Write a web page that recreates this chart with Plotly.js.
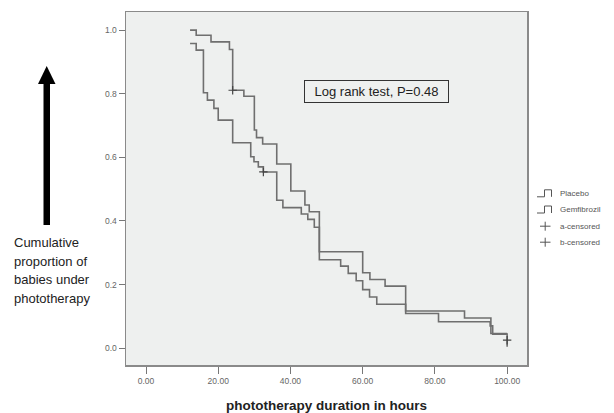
<!DOCTYPE html>
<html>
<head>
<meta charset="utf-8">
<script src="https://cdn.plot.ly/plotly-3.0.1.min.js"></script>
<style>html,body{margin:0;padding:0;background:#fff;}#chart{width:614px;height:413px;}</style>
</head>
<body>
<div id="chart"></div>
<script>
// ---- data ----
var placeboTime = [12.2, 13.9, 18.0, 23.1, 24.0, 27.1, 30.0, 30.6, 32.3, 36.2, 40.1, 44.0, 45.2, 48.0, 60.0, 62.0, 66.2, 71.9, 88.2, 95.5, 100.0];
var placeboSurv = [1.000, 0.984, 0.963, 0.939, 0.811, 0.792, 0.686, 0.662, 0.642, 0.579, 0.494, 0.450, 0.429, 0.303, 0.237, 0.216, 0.195, 0.117, 0.095, 0.046, 0.046];

var gemfiTime = [12.2, 13.9, 15.9, 17.0, 18.8, 20.0, 24.0, 29.0, 29.9, 31.1, 32.5, 36.2, 37.9, 43.0, 44.8, 46.6, 48.0, 53.9, 56.0, 58.2, 60.0, 61.9, 63.9, 71.9, 81.0, 95.3, 96.0, 100.0];
var gemfiSurv = [0.958, 0.937, 0.803, 0.780, 0.754, 0.717, 0.646, 0.602, 0.586, 0.570, 0.554, 0.465, 0.442, 0.422, 0.405, 0.380, 0.278, 0.258, 0.235, 0.212, 0.184, 0.161, 0.138, 0.109, 0.083, 0.070, 0.044, 0.004];

var censorATime = [24.0];
var censorASurv = [0.811];
var censorBTime = [32.5, 100.0];
var censorBSurv = [0.554, 0.025];

var xTickVals = [0, 20, 40, 60, 80, 100];
var xTickLabels = ["0.00", "20.00", "40.00", "60.00", "80.00", "100.00"];
var yTickVals = [0.0, 0.2, 0.4, 0.6, 0.8, 1.0];
var yTickLabels = ["0.0", "0.2", "0.4", "0.6", "0.8", "1.0"];

var legendLabels = ["Placebo", "Gemfibrozil", "a-censored", "b-censored"];
var xAxisTitle = "phototherapy duration in hours";
var sideTitleLines = ["Cumulative", "proportion of", "babies under", "phototherapy"];
var testText = "Log rank test, P=0.48";

// ---- layout geometry ----
var W = 614, H = 413;
var L = 126, R = 527, T = 12, B = 365;
function px(x) { return (x - L) / (R - L); }
function py(y) { return (B - y) / (B - T); }

var FONT = "Liberation Sans, Arial, sans-serif";
var lineColor = "#6f6f6f";

var traces = [
  {x: placeboTime, y: placeboSurv, mode: "lines", line: {shape: "hv", color: lineColor, width: 1.6}, showlegend: false, hoverinfo: "skip"},
  {x: gemfiTime, y: gemfiSurv, mode: "lines", line: {shape: "hv", color: lineColor, width: 1.6}, showlegend: false, hoverinfo: "skip"},
  {x: censorATime, y: censorASurv, mode: "markers", marker: {symbol: "cross-thin", size: 6, line: {color: "#444", width: 1.2}}, showlegend: false, hoverinfo: "skip"},
  {x: censorBTime, y: censorBSurv, mode: "markers", marker: {symbol: "cross-thin", size: 6, line: {color: "#444", width: 1.2}}, showlegend: false, hoverinfo: "skip"}
];

var annotations = [];
var shapes = [];

// log rank box
annotations.push({
  xref: "paper", yref: "paper", x: px(376.7), y: py(91.2), xanchor: "center", yanchor: "middle",
  text: testText, showarrow: false, font: {family: FONT, size: 13, color: "#222"},
  bordercolor: "#333", borderwidth: 1, borderpad: 3, width: 137, height: 15
});

// x axis title
annotations.push({
  xref: "paper", yref: "paper", x: px(326.7), y: py(405), xanchor: "center", yanchor: "middle",
  text: "<b>" + xAxisTitle + "</b>", showarrow: false, font: {family: FONT, size: 13.5, color: "#222"}
});

// side title lines
var sideY = [242.7, 261.2, 279.7, 298.2];
sideTitleLines.forEach(function (t, i) {
  annotations.push({
    xref: "paper", yref: "paper", x: px(12.5), y: py(sideY[i]), xanchor: "left", yanchor: "middle",
    text: t, showarrow: false, font: {family: FONT, size: 13, color: "#222"}
  });
});

// arrow
shapes.push({type: "rect", xref: "paper", yref: "paper", x0: px(43.5), x1: px(50), y0: py(225), y1: py(83),
  fillcolor: "#000", line: {width: 0}});
shapes.push({type: "path", xref: "paper", yref: "paper",
  path: "M" + px(38) + "," + py(84) + " L" + px(55.5) + "," + py(84) + " L" + px(46.7) + "," + py(66) + " Z",
  fillcolor: "#000", line: {width: 0}});

// custom legend
var legY = [193.3, 209.5, 226.2, 242.2];
legendLabels.forEach(function (t, i) {
  annotations.push({
    xref: "paper", yref: "paper", x: px(558), y: py(legY[i]), xanchor: "left", yanchor: "middle",
    text: t, showarrow: false, font: {family: FONT, size: 8, color: "#555"}
  });
  var yc = legY[i];
  if (i < 2) {
    shapes.push({type: "path", xref: "paper", yref: "paper",
      path: "M" + px(537) + "," + py(yc + 3.5) + " L" + px(544.5) + "," + py(yc + 3.5) +
            " L" + px(544.5) + "," + py(yc - 3.5) + " L" + px(551.5) + "," + py(yc - 3.5) +
            " L" + px(551.5) + "," + py(yc + 3.5),
      line: {color: "#555", width: 1}});
  } else {
    shapes.push({type: "line", xref: "paper", yref: "paper", x0: px(540), x1: px(550.5), y0: py(yc), y1: py(yc), line: {color: "#555", width: 1}});
    shapes.push({type: "line", xref: "paper", yref: "paper", x0: px(545.2), x1: px(545.2), y0: py(yc - 4.5), y1: py(yc + 4.5), line: {color: "#555", width: 1}});
  }
});

var layout = {
  width: W, height: H,
  margin: {l: L, r: W - R, t: T, b: H - B, pad: 0},
  paper_bgcolor: "#ffffff",
  plot_bgcolor: "#eef0ef",
  showlegend: false,
  font: {family: FONT},
  xaxis: {
    range: [-5.54, 105.5], tickmode: "array", tickvals: xTickVals, ticktext: xTickLabels,
    ticks: "outside", ticklen: 7, tickcolor: "#777", tickwidth: 1,
    tickfont: {family: FONT, size: 8.5, color: "#666"},
    showgrid: false, zeroline: false, showline: true, mirror: true, linecolor: "#8a8a8a", linewidth: 1.5
  },
  yaxis: {
    range: [-0.053, 1.057], tickmode: "array", tickvals: yTickVals, ticktext: yTickLabels,
    ticks: "outside", ticklen: 6, tickcolor: "#777", tickwidth: 1,
    tickfont: {family: FONT, size: 8.5, color: "#666"},
    showgrid: false, zeroline: false, showline: true, mirror: true, linecolor: "#8a8a8a", linewidth: 1.5
  },
  annotations: annotations,
  shapes: shapes
};

Plotly.newPlot("chart", traces, layout, {staticPlot: true, displayModeBar: false});
</script>
</body>
</html>
